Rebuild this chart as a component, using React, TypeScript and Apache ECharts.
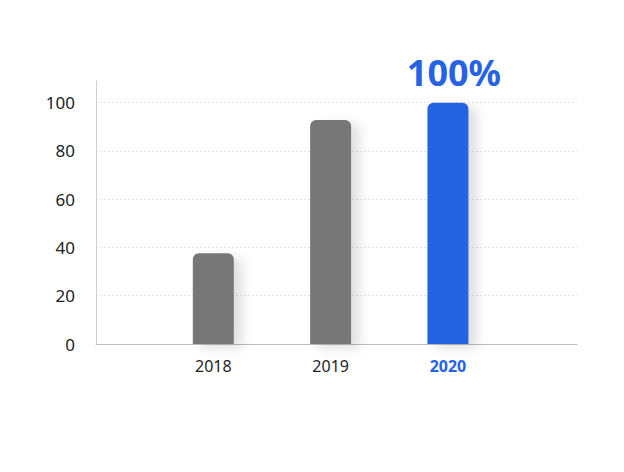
import React, { useEffect, useRef } from 'react'
import * as echarts from 'echarts'

const categories = ['2018', '2019', '2020']
const values = [37.6, 92.8, 100]
const highlightLabel = '100%'
const yTicks = [0, 20, 40, 60, 80, 100]

const GRAY = '#777777'
const BLUE = '#2563e3'

const App: React.FC = () => {
    const chartRef = useRef<HTMLDivElement | null>(null)

    useEffect(() => {
        document.body.style.margin = '0'
        if (!chartRef.current) return
        const chart = echarts.init(chartRef.current, undefined, { renderer: 'svg' })

        const last = categories.length - 1

        chart.setOption({
            animation: false,
            textStyle: { fontFamily: 'Noto Sans' },
            grid: { left: 96, right: 47, top: 81, bottom: 128 },
            xAxis: {
                type: 'value',
                min: 0,
                max: 4.1,
                interval: 1,
                splitLine: { show: false },
                axisTick: { show: false },
                axisLine: { show: true, lineStyle: { color: '#bdbdbd', width: 1 } },
                axisLabel: {
                    margin: 14,
                    fontSize: 16,
                    color: '#222',
                    showMaxLabel: false,
                    formatter: (v: number) => {
                        const i = Math.round(v) - 1
                        if (Math.abs(v - Math.round(v)) > 0.01 || i < 0 || i >= categories.length) return ''
                        return i === last ? `{hi|${categories[i]}}` : categories[i]
                    },
                    rich: {
                        hi: { color: BLUE, fontWeight: 'bold', fontSize: 16, fontFamily: 'Noto Sans' },
                    },
                },
            },
            yAxis: {
                type: 'value',
                min: 0,
                max: 109,
                interval: 20,
                axisLine: { show: true, lineStyle: { color: '#cfcfcf', width: 1 } },
                axisTick: { show: false },
                axisLabel: {
                    margin: 21,
                    fontSize: 17,
                    color: '#222',
                    formatter: (v: number) => (yTicks.includes(v) ? String(v) : ''),
                },
                splitLine: {
                    show: true,
                    showMaxLine: false,
                    lineStyle: { color: '#e2e2e2', type: [2, 2], width: 1 },
                },
            },
            series: [
                {
                    type: 'bar',
                    barWidth: 41,
                    data: values.map((v, i) => ({
                        value: [i + 1, v],
                        itemStyle: {
                            color: i === last ? BLUE : GRAY,
                            borderRadius: [6, 6, 0, 0],
                            shadowColor: 'rgba(0,0,0,0.13)',
                            shadowBlur: 12,
                            shadowOffsetX: 8,
                            shadowOffsetY: 4,
                        },
                        label:
                            i === last
                                ? {
                                      show: true,
                                      position: 'top',
                                      distance: 12,
                                      offset: [6, 0],
                                      formatter: highlightLabel,
                                      fontSize: 36,
                                      fontWeight: 'bold',
                                      color: BLUE,
                                      fontFamily: 'Noto Sans',
                                  }
                                : { show: false },
                    })),
                },
            ],
        })

        return () => {
            chart.dispose()
        }
    }, [])

    return <div ref={chartRef} style={{ width: 624, height: 472 }} />
}

export default App
